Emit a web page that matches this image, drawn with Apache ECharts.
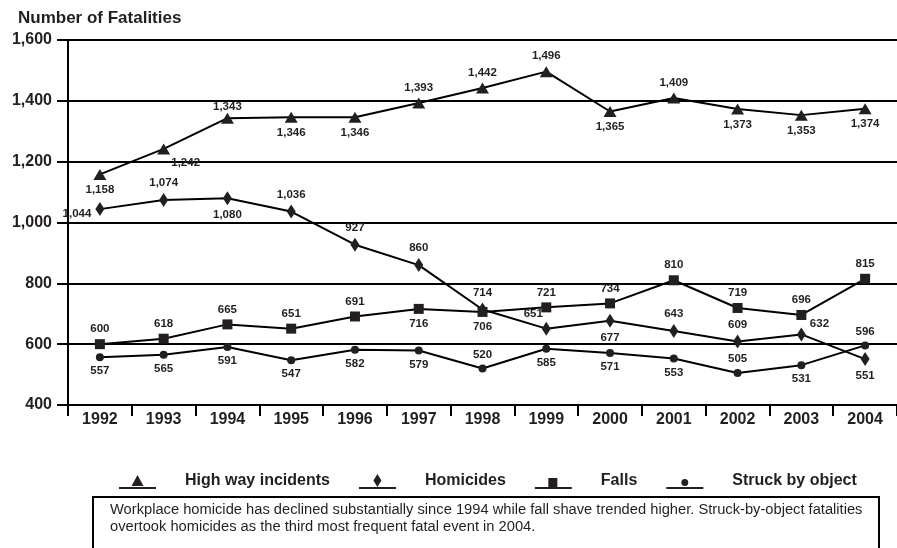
<!DOCTYPE html>
<html>
<head>
<meta charset="utf-8">
<title>Number of Fatalities, 1992-2004</title>
<script src="https://cdn.jsdelivr.net/npm/echarts@6/dist/echarts.min.js"></script>
<style>
  html, body { margin: 0; padding: 0; background: #fff; }
  #chart { width: 897px; height: 548px; }
</style>
</head>
<body>
<div id="chart"></div>
<script>
// ---- data ----
const years = ['1992', '1993', '1994', '1995', '1996', '1997', '1998',
               '1999', '2000', '2001', '2002', '2003', '2004'];
const highway = [1158, 1242, 1343, 1346, 1346, 1393, 1442, 1496, 1365, 1409, 1373, 1353, 1374];
const homicides = [1044, 1074, 1080, 1036, 927, 860, 714, 651, 677, 643, 609, 632, 551];
const falls = [600, 618, 665, 651, 691, 716, 706, 721, 734, 810, 719, 696, 815];
const struck = [557, 565, 591, 547, 582, 579, 520, 585, 571, 553, 505, 531, 596];
const yTicks = [400, 600, 800, 1000, 1200, 1400, 1600];
const seriesNames = ['High way incidents', 'Homicides', 'Falls', 'Struck by object'];
const note = 'Workplace homicide has declined substantially since 1994 while fall shave trended higher. Struck-by-object fatalities\n' +
             'overtook homicides as the third most frequent fatal event in 2004.';

// ---- layout: where each value label sits relative to its marker ----
const T = 'top', B = 'bottom', L = 'left', R = 'right';
const highwayPos = [B, B, T, B, B, T, T, T, B, T, B, B, B];
const homicidesPos = [L, T, B, T, T, T, T, T, B, T, T, R, B];
const fallsPos = [T, T, T, T, T, B, B, T, T, T, T, T, T];
const struckPos = [B, B, B, B, B, B, T, B, B, B, T, B, T];
const labelOffsets = {
  'High way incidents': { 1: [22, -2], 2: [0, 4] },
  'Homicides': { 0: [0, 5], 7: [-13, 2], 11: [0, -11] }
};

const FONT = '"Liberation Sans", Arial, Helvetica, sans-serif';
const INK = '#231f20';

const fmt = v => Number(v).toLocaleString('en-US');

// legend keys: marker sitting on a short underline
const UNDER = 'M0 14L37 14L37 16L0 16Z';
const icons = {
  'High way incidents': 'path://' + UNDER + 'M12.5 13L18.5 2L24.5 13Z M18.5 0L18.5 0Z',
  'Homicides': 'path://' + UNDER + 'M18.5 1L22.5 7.5L18.5 14L14.5 7.5Z M18.5 0L18.5 0Z',
  'Falls': 'path://' + UNDER + 'M13.5 5L22.5 5L22.5 14L13.5 14Z M18.5 0L18.5 0Z',
  'Struck by object': 'path://' + UNDER + 'M15 9.5A3.5 3.5 0 1 0 22 9.5A3.5 3.5 0 1 0 15 9.5Z M18.5 0L18.5 0Z'
};

function buildData(name, values, positions) {
  const offs = labelOffsets[name] || {};
  return values.map((v, i) => ({
    value: v,
    label: { position: positions[i], offset: offs[i] || [0, 0] }
  }));
}

function lineSeries(name, values, positions, symbol, symbolSize) {
  return {
    name: name,
    type: 'line',
    data: buildData(name, values, positions),
    symbol: symbol,
    symbolSize: symbolSize,
    showAllSymbol: true,
    lineStyle: { color: '#000', width: 2 },
    itemStyle: { color: INK },
    label: {
      show: true,
      formatter: p => fmt(p.value),
      color: INK,
      fontFamily: FONT,
      fontWeight: 'bold',
      fontSize: 11.5,
      distance: 4
    },
    emphasis: { disabled: true }
  };
}

const chart = echarts.init(document.getElementById('chart'), null, { renderer: 'canvas' });

chart.setOption({
  animation: false,
  backgroundColor: '#fff',
  title: {
    text: 'Number of Fatalities',
    left: 13,
    top: 5,
    textStyle: { fontFamily: FONT, fontSize: 17, fontWeight: 'bold', color: INK }
  },
  grid: { left: 68, top: 40, width: 840, height: 365, containLabel: false },
  xAxis: {
    type: 'category',
    data: years,
    boundaryGap: true,
    axisLine: { show: true, lineStyle: { color: '#000', width: 2 } },
    axisTick: { show: true, length: 11, lineStyle: { color: '#000', width: 2 } },
    axisLabel: {
      margin: 7,
      fontFamily: FONT, fontSize: 16, fontWeight: 'bold', color: INK
    },
    splitLine: { show: false }
  },
  yAxis: {
    type: 'value',
    min: yTicks[0],
    max: yTicks[yTicks.length - 1],
    interval: yTicks[1] - yTicks[0],
    axisLine: { show: true, lineStyle: { color: '#000', width: 2 } },
    axisTick: { show: true, length: 11, lineStyle: { color: '#000', width: 2 } },
    axisLabel: {
      margin: 16,
      formatter: v => fmt(v),
      fontFamily: FONT, fontSize: 16, fontWeight: 'bold', color: INK
    },
    splitLine: { show: true, lineStyle: { color: '#000', width: 2 } }
  },
  legend: {
    data: seriesNames.map(n => ({ name: n, icon: icons[n] })),
    left: 114,
    top: 468,
    itemWidth: 37,
    itemHeight: 16,
    itemGap: 29,
    selectedMode: false,
    itemStyle: { color: INK },
    textStyle: {
      fontFamily: FONT, fontSize: 16, fontWeight: 'bold', color: INK,
      padding: [0, 0, 0, 24]
    }
  },
  series: [
    lineSeries(seriesNames[0], highway, highwayPos, 'triangle', [13, 11]),
    lineSeries(seriesNames[1], homicides, homicidesPos, 'diamond', [9, 14]),
    lineSeries(seriesNames[2], falls, fallsPos, 'rect', [10, 10]),
    lineSeries(seriesNames[3], struck, struckPos, 'circle', 8)
  ],
  graphic: [
    {
      type: 'rect',
      left: 92,
      top: 496,
      shape: { width: 786, height: 70 },
      style: { fill: '#fff', stroke: '#000', lineWidth: 2 },
      silent: true
    },
    {
      type: 'text',
      left: 110,
      top: 501,
      style: {
        text: note,
        font: '14.7px ' + FONT,
        fill: INK,
        lineHeight: 17
      },
      silent: true
    }
  ]
});
</script>
</body>
</html>
